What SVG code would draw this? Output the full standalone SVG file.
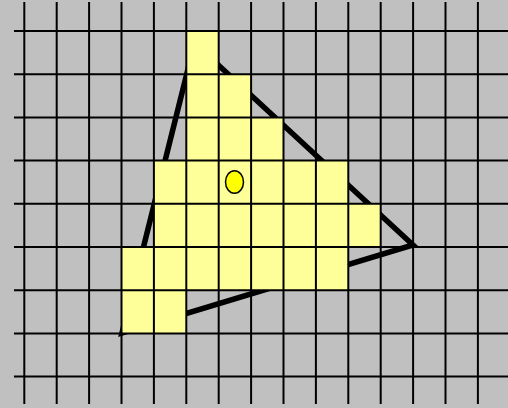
<svg xmlns="http://www.w3.org/2000/svg" width="508" height="408" viewBox="0 0 508 408">
<style>
.cell{fill:#ffff99;stroke:none}
.grid line{stroke:#000;stroke-width:2}
.tri{fill:none;stroke:#000;stroke-width:5.5;stroke-linejoin:miter}
</style>
<rect x="0" y="0" width="508" height="408" fill="#c0c0c0"/>
<polygon class="tri" points="194.5,43 413,245 122,333"/>
<g id="cells">
<rect class="cell" x="186.3" y="31" width="32.4" height="43.2"/>
<rect class="cell" x="186.3" y="74.2" width="64.8" height="43.2"/>
<rect class="cell" x="186.3" y="117.4" width="97.2" height="43.2"/>
<rect class="cell" x="153.9" y="160.6" width="194.4" height="43.2"/>
<rect class="cell" x="153.9" y="203.8" width="226.8" height="43.2"/>
<rect class="cell" x="121.5" y="247" width="226.8" height="43.2"/>
<rect class="cell" x="121.5" y="290.2" width="64.8" height="43.2"/>
</g>
<g class="grid">
<line x1="24.3" y1="2" x2="24.3" y2="404"/>
<line x1="56.7" y1="2" x2="56.7" y2="404"/>
<line x1="89.1" y1="2" x2="89.1" y2="404"/>
<line x1="121.5" y1="2" x2="121.5" y2="404"/>
<line x1="153.9" y1="2" x2="153.9" y2="404"/>
<line x1="186.3" y1="2" x2="186.3" y2="404"/>
<line x1="218.7" y1="2" x2="218.7" y2="404"/>
<line x1="251.1" y1="2" x2="251.1" y2="404"/>
<line x1="283.5" y1="2" x2="283.5" y2="404"/>
<line x1="315.9" y1="2" x2="315.9" y2="404"/>
<line x1="348.3" y1="2" x2="348.3" y2="404"/>
<line x1="380.7" y1="2" x2="380.7" y2="404"/>
<line x1="413.1" y1="2" x2="413.1" y2="404"/>
<line x1="445.5" y1="2" x2="445.5" y2="404"/>
<line x1="477.9" y1="2" x2="477.9" y2="404"/>
<line x1="14" y1="31" x2="508" y2="31"/>
<line x1="14" y1="74.2" x2="508" y2="74.2"/>
<line x1="14" y1="117.4" x2="508" y2="117.4"/>
<line x1="14" y1="160.6" x2="508" y2="160.6"/>
<line x1="14" y1="203.8" x2="508" y2="203.8"/>
<line x1="14" y1="247" x2="508" y2="247"/>
<line x1="14" y1="290.2" x2="508" y2="290.2"/>
<line x1="14" y1="333.4" x2="508" y2="333.4"/>
<line x1="14" y1="376.6" x2="508" y2="376.6"/>
</g>
<ellipse id="center" cx="234.5" cy="182" rx="9" ry="11.3" fill="#ffff00" stroke="#000" stroke-width="1.5"/>
</svg>
